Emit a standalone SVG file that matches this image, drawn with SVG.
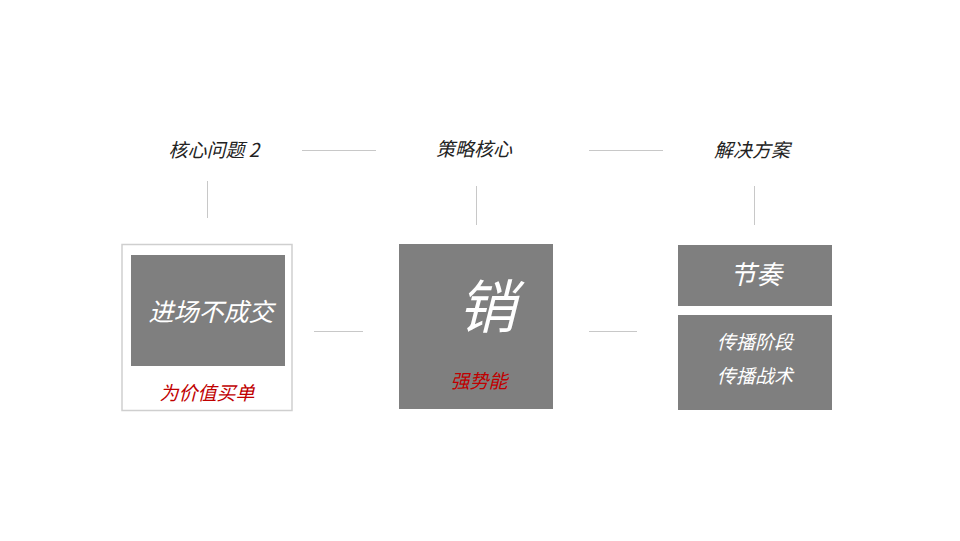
<svg xmlns="http://www.w3.org/2000/svg" width="960" height="541" viewBox="0 0 960 541">
<style>
text{font-family:"Noto Sans CJK SC",sans-serif;font-style:italic;text-anchor:middle}
.h{font-size:19px;fill:#222}
.w{fill:#fff}
.r{fill:#c00000;font-size:19px}
.box{fill:#7f7f7f}
.ln{stroke:#c8c8c8;stroke-width:1;fill:none}
</style>
<rect width="960" height="541" fill="#fff"/>
<g id="connectors">
<line class="ln" x1="302" y1="150.5" x2="376" y2="150.5"/>
<line class="ln" x1="589" y1="150.5" x2="663" y2="150.5"/>
<line class="ln" x1="207.5" y1="181" x2="207.5" y2="218"/>
<line class="ln" x1="476.5" y1="186" x2="476.5" y2="225"/>
<line class="ln" x1="754.5" y1="186" x2="754.5" y2="225"/>
<line class="ln" x1="314" y1="331.5" x2="363" y2="331.5"/>
<line class="ln" x1="589" y1="331.5" x2="637" y2="331.5"/>
</g>
<g id="h1"><text class="h" x="214" y="157">核心问题 2</text></g>
<g id="h2"><text class="h" x="474" y="156">策略核心</text></g>
<g id="h3"><text class="h" x="752" y="157">解决方案</text></g>
<g id="n1">
<rect x="122" y="244.5" width="170" height="166" fill="#fff" stroke="#cfcfcf" stroke-width="1.5"/>
<rect class="box" x="131" y="255" width="154" height="111"/>
<text class="w" x="211" y="321" font-size="25">进场不成交</text>
<text class="r" x="207" y="400">为价值买单</text>
</g>
<g id="n2">
<rect class="box" x="399" y="244" width="154" height="165"/>
<text class="w" x="487" y="328" font-size="58">销</text>
<text class="r" x="479" y="388">强势能</text>
</g>
<g id="n3">
<rect class="box" x="678" y="245" width="154" height="61"/>
<text class="w" x="756" y="284" font-size="26">节奏</text>
</g>
<g id="n4">
<rect class="box" x="678" y="315" width="154" height="95"/>
<text class="w" x="755" y="349" font-size="19">传播阶段</text>
<text class="w" x="755" y="383" font-size="19">传播战术</text>
</g>
</svg>
